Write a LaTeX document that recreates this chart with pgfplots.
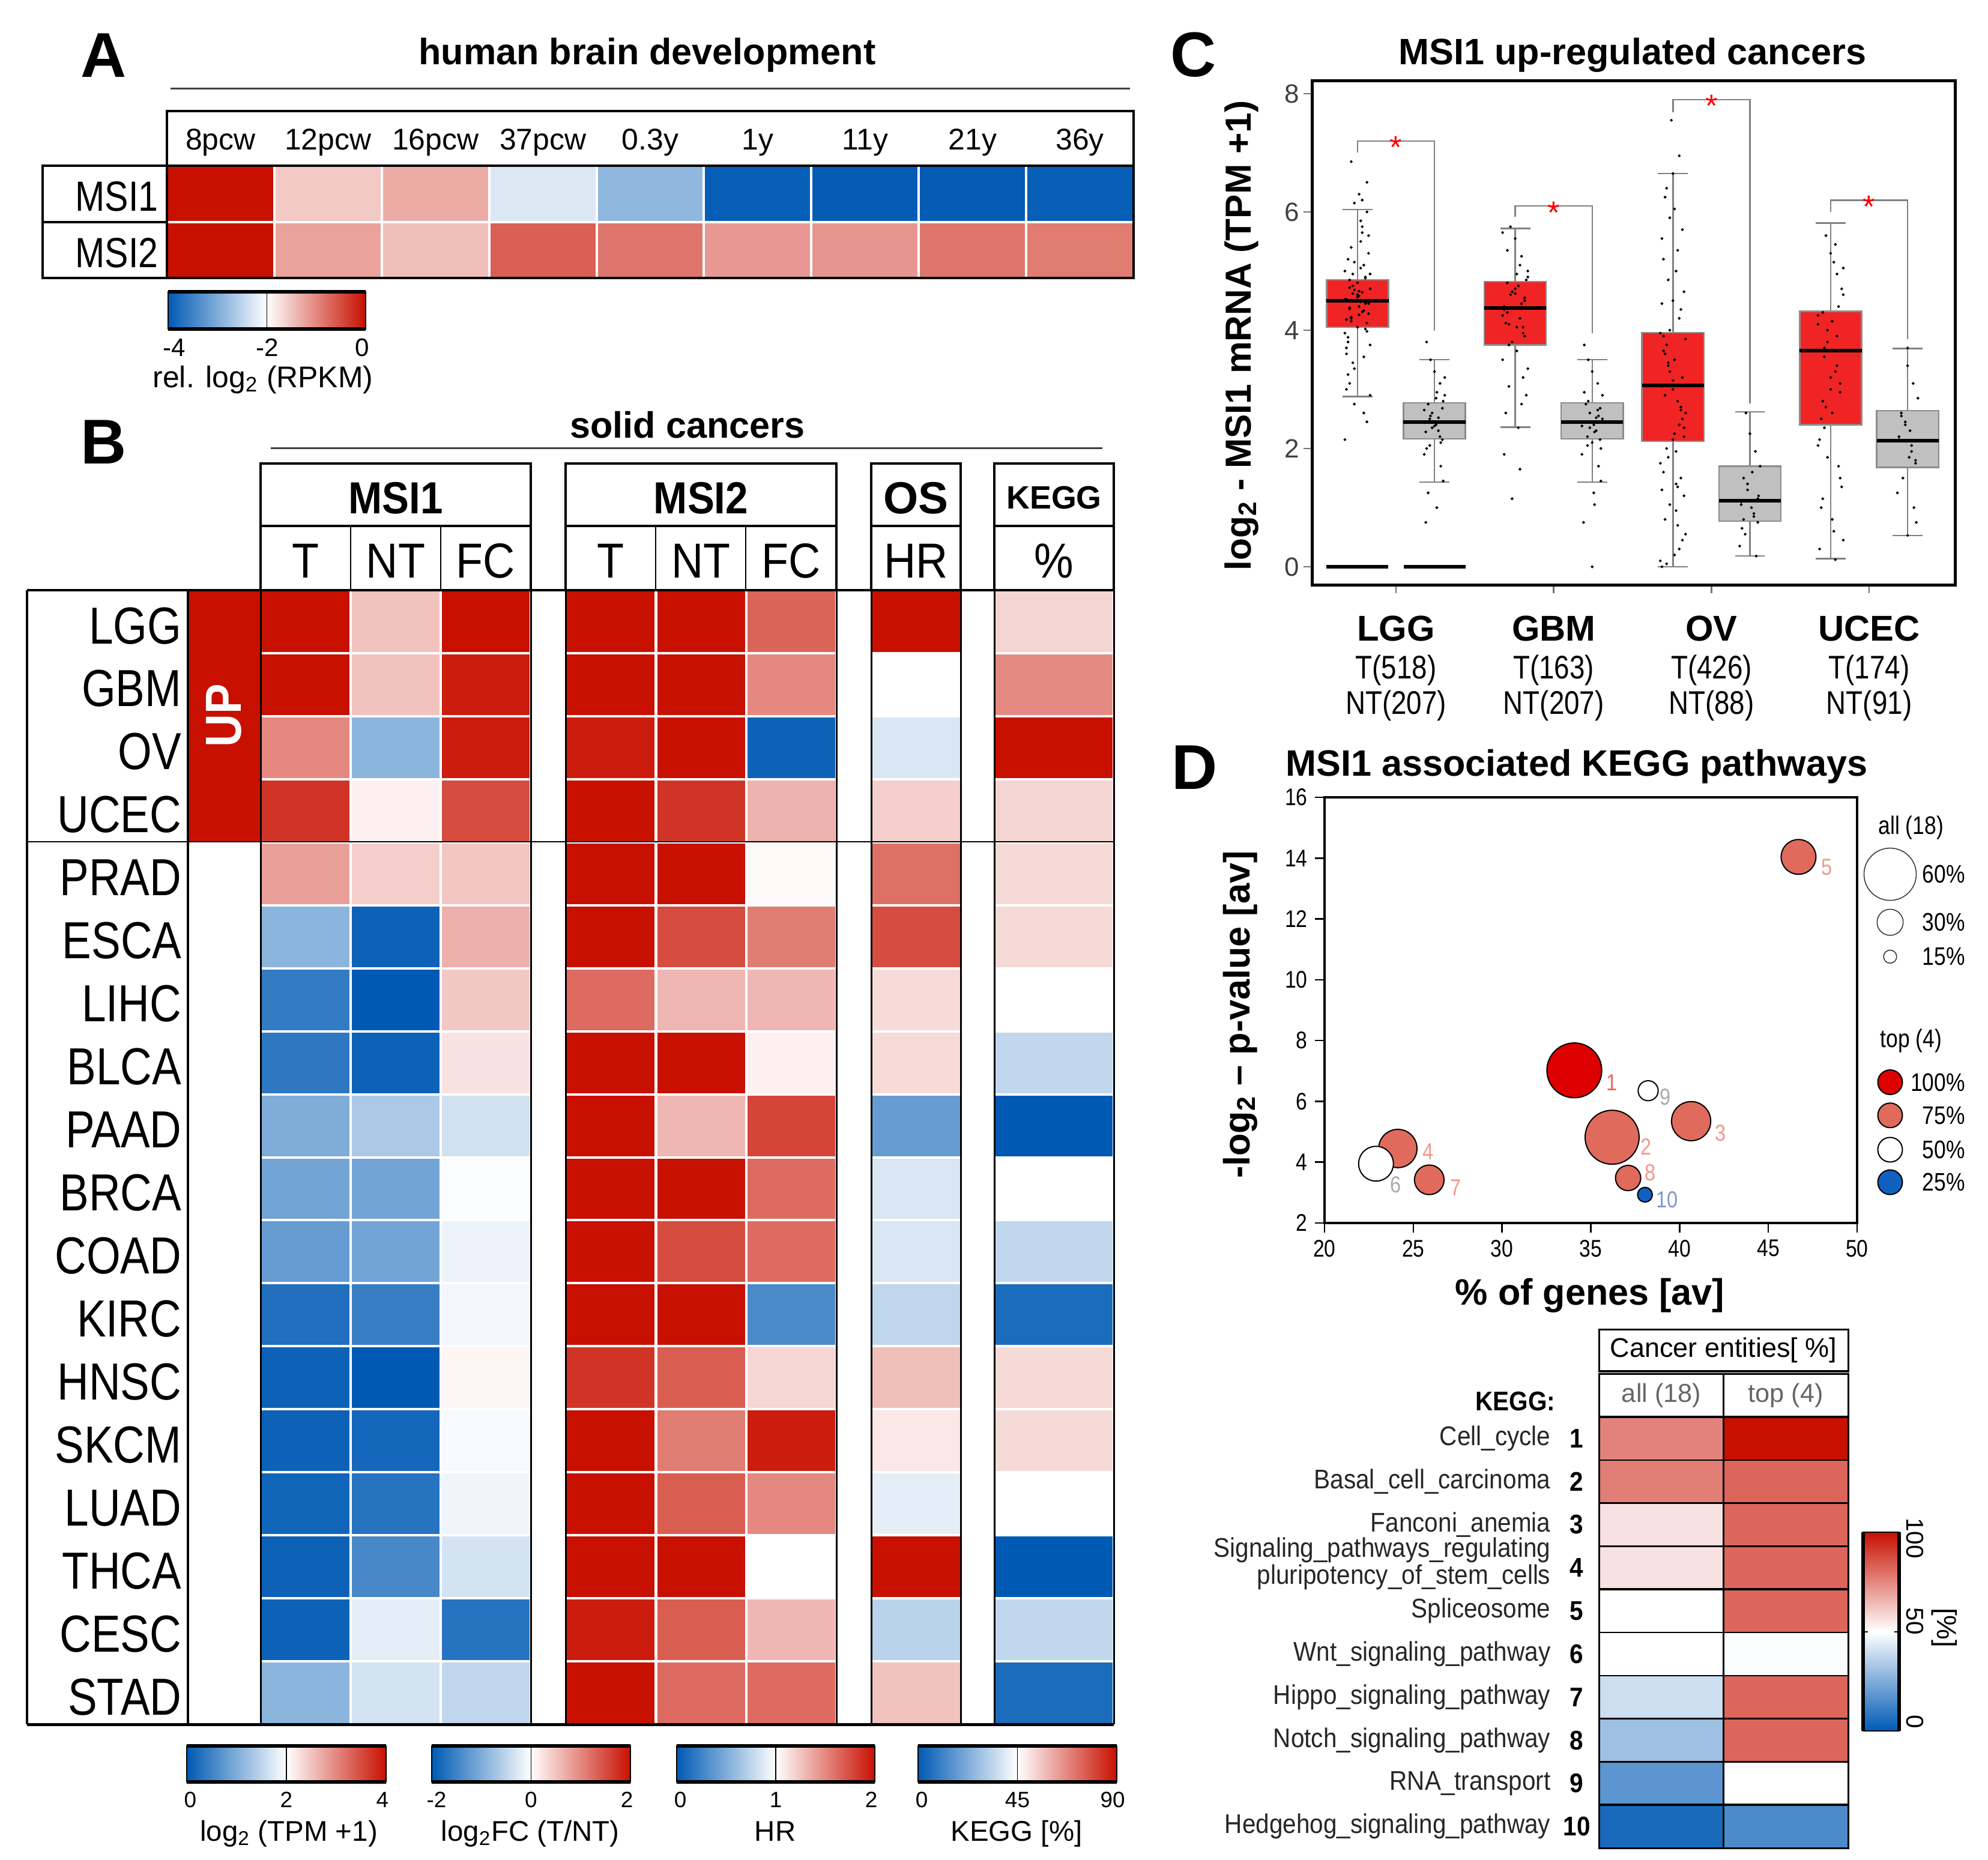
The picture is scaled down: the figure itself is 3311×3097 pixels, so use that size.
\documentclass[border=0pt]{standalone}
\usepackage{fontspec}
\setmainfont{Liberation Sans}
\newfontfamily\nar[FakeStretch=0.84]{Liberation Sans}
\newfontfamily\narm[FakeStretch=0.9]{Liberation Sans}
\usepackage{pgfplots}
\usepackage{pgfplotstable}
\pgfplotsset{compat=1.18}
\usepgfplotslibrary{statistics}
\newcommand{\fs}[1]{\fontsize{#1}{#1}\selectfont}

\definecolor{hmred}{RGB}{200,16,0}
\definecolor{hmblue}{RGB}{0,90,180}
\definecolor{boxred}{RGB}{240,36,36}
\definecolor{boxgray}{RGB}{192,192,192}
\definecolor{bubred}{RGB}{222,0,0}
\definecolor{bubsal}{RGB}{224,106,92}
\definecolor{bubblue}{RGB}{16,96,192}
\definecolor{labsal}{RGB}{244,150,140}
\definecolor{labred}{RGB}{238,100,100}
\definecolor{labgray}{RGB}{170,170,170}
\definecolor{labblue}{RGB}{130,150,205}

\pgfdeclareplotmark{cellA}{\pgfpathrectangle{\pgfpoint{-8.945mm}{-4.675mm}}{\pgfpoint{17.89mm}{9.35mm}}\pgfusepathqfillstroke}
\pgfdeclareplotmark{cellB}{\pgfpathrectangle{\pgfpoint{-7.5mm}{-5.247mm}}{\pgfpoint{15mm}{10.494mm}}\pgfusepathqfillstroke}
\pgfdeclareplotmark{cellK}{\pgfpathrectangle{\pgfpoint{-9.95mm}{-5.247mm}}{\pgfpoint{19.9mm}{10.494mm}}\pgfusepathqfillstroke}
\pgfdeclareplotmark{cellD}{\pgfpathrectangle{\pgfpoint{-10.375mm}{-3.59mm}}{\pgfpoint{20.75mm}{7.18mm}}\pgfusepathqfillstroke}

\pgfplotsset{
  colormap={bwr}{rgb255=(0,90,180) rgb255=(255,255,255) rgb255=(200,16,0)},
  hm/.style={scatter, only marks, mark options={line width=0.4mm},
    scatter/use mapped color={draw=white, fill=mapped color}},
  hmd/.style={scatter, only marks, mark=cellD, mark options={line width=0.25mm},
    scatter/use mapped color={draw=black, fill=mapped color}},
  bub/.style={visualization depends on={0.0725*\thisrow{s} \as \rad},
    scatter/@pre marker code/.append style={/tikz/mark size=\rad mm}},
}

% Panel A: relative log2 RPKM
\pgfplotstableread{
i M1 M2
1 0.00 0.00
2 -1.55 -1.22
3 -1.30 -1.46
4 -2.27 -0.66
5 -2.87 -0.85
6 -3.95 -1.14
7 -3.97 -1.12
8 -3.97 -0.85
9 -3.95 -0.90
}\tabA

% Panel B
\pgfplotstableread{
r T1 N1 F1 T2 N2 F2 HR KG
1 4.0 2.5 2.0 4.0 4.0 1.3 2.0 53
2 4.0 2.5 1.9 4.0 4.0 1.0 1.0 67
3 3.0 1.1 1.9 3.9 4.0 -1.9 0.85 90
4 3.7 2.12 1.5 4.0 3.7 0.64 1.2 53
5 2.8 2.4 0.48 4.0 4.0 0.04 1.6 52
6 1.1 0.1 0.66 4.0 3.5 1.1 1.75 52
7 0.4 0.0 0.46 3.24 2.6 0.6 1.15 45
8 0.36 0.1 0.24 4.0 4.0 0.12 1.15 34
9 1.0 1.34 -0.36 4.0 2.6 1.56 0.4 0
10 0.9 0.9 -0.04 4.0 4.0 1.24 0.85 45
11 0.8 0.9 -0.14 4.0 3.5 1.24 0.85 34
12 0.26 0.44 -0.1 4.0 4.0 -1.4 0.75 5
13 0.1 0.0 0.08 3.7 3.36 0.34 1.27 52
14 0.1 0.16 -0.06 4.0 3.1 1.9 1.1 52
15 0.14 0.3 -0.12 4.0 3.36 1.0 0.9 45
16 0.1 0.56 -0.34 4.0 4.0 0.0 2.0 0
17 0.1 1.8 -1.7 3.9 3.36 0.6 0.73 34
18 1.1 1.66 -0.5 4.0 3.24 1.24 1.25 5
}\tabB

% Panel D table
\pgfplotstableread{
r all top
1 76 100
2 77 82
3 56 82
4 56 82
5 50 82
6 50 49
7 40 82
8 31 82
9 18 50
10 5 15
}\tabD

% Panel C jittered samples (approximate)
\pgfplotstableread{
x y
0.686 4.52
0.786 4.31
0.736 4.68
0.816 4.12
0.706 4.85
0.766 4.40
0.836 4.95
0.716 4.22
0.796 5.10
0.676 3.95
0.756 4.60
0.806 4.45
0.726 4.75
0.826 5.30
0.696 3.80
0.776 5.50
0.686 3.60
0.786 5.75
0.736 3.35
0.816 6.00
0.706 3.10
0.766 6.30
0.836 2.90
0.716 6.85
0.796 2.60
0.676 2.15
0.756 4.05
0.806 4.90
0.726 4.62
0.826 4.28
0.696 5.20
0.776 4.48
0.686 3.70
0.786 5.65
0.736 6.15
0.816 2.45
0.706 4.38
0.766 4.58
0.836 4.70
0.716 4.15
0.796 4.33
0.676 4.52
0.756 4.80
0.806 4.02
0.726 4.95
0.826 4.45
0.696 3.88
0.776 5.05
0.686 4.18
0.786 4.64
0.736 5.15
0.816 3.98
0.706 4.72
0.766 4.26
0.836 3.75
0.716 5.40
0.796 3.55
0.676 5.00
0.756 4.56
0.806 4.88
0.726 3.45
0.826 5.60
0.696 3.25
0.776 5.85
0.686 3.00
0.786 6.20
0.736 2.75
0.816 6.50
0.706 4.36
0.766 4.66
0.836 4.50
0.716 4.20
1.189 2.45
1.269 2.30
1.229 2.60
1.294 2.15
1.204 2.75
1.254 2.40
1.309 2.90
1.214 2.05
1.279 3.10
1.179 1.90
1.244 3.30
1.284 1.70
1.219 3.50
1.299 1.45
1.194 3.80
1.259 1.00
1.189 0.75
1.269 2.52
1.229 2.35
1.294 2.68
1.204 1.25
1.254 2.85
1.309 3.20
1.214 2.50
1.279 2.20
1.179 2.65
1.244 2.38
1.284 2.10
1.219 2.55
1.299 2.80
1.194 2.00
1.259 2.95
1.189 2.28
1.686 4.40
1.786 4.20
1.736 4.65
1.816 3.90
1.706 4.80
1.766 4.05
1.836 5.00
1.716 3.75
1.796 5.25
1.676 3.50
1.756 5.55
1.806 3.20
1.726 5.75
1.826 2.90
1.696 2.60
1.776 2.35
1.686 1.90
1.786 1.65
1.736 1.15
1.816 4.55
1.706 4.30
1.766 4.95
1.836 3.35
1.716 4.10
1.796 4.45
1.676 4.25
1.756 4.70
1.806 3.95
1.726 4.60
1.826 4.85
1.696 4.12
1.776 4.75
1.686 4.35
1.786 5.10
1.736 3.80
1.816 4.50
1.706 5.35
1.766 3.65
1.836 4.90
1.716 3.05
1.796 2.75
1.676 5.65
1.756 4.62
1.806 4.05
2.189 2.45
2.269 2.30
2.229 2.60
2.294 2.15
2.204 2.75
2.254 2.40
2.309 2.90
2.214 2.05
2.279 3.10
2.179 1.90
2.244 3.30
2.284 1.70
2.219 3.50
2.299 1.45
2.194 3.75
2.259 1.05
2.189 0.75
2.269 2.52
2.229 2.35
2.294 2.68
2.244 0.00
2.254 1.25
2.309 2.50
2.214 2.20
2.279 2.65
2.179 2.38
2.244 2.10
2.284 2.55
2.219 2.80
2.299 2.00
2.194 2.95
2.259 2.28
2.686 3.05
2.786 2.80
2.736 3.30
2.816 2.50
2.706 3.60
2.766 2.25
2.836 3.85
2.716 2.00
2.796 4.20
2.676 1.75
2.756 4.50
2.806 1.50
2.726 4.85
2.826 1.20
2.696 5.20
2.776 0.95
2.686 5.55
2.786 0.70
2.736 5.90
2.816 0.45
2.706 6.25
2.766 0.20
2.756 6.65
2.716 0.05
2.796 6.95
2.746 7.55
2.756 3.15
2.806 2.65
2.726 3.45
2.826 2.35
2.696 3.90
2.776 1.95
2.686 0.00
2.786 1.35
2.736 4.00
2.816 3.20
2.706 2.90
2.766 3.50
2.836 2.60
2.716 3.75
2.796 2.40
2.676 3.95
2.756 2.15
2.806 4.35
2.726 1.85
2.826 4.65
2.696 1.60
2.776 5.00
2.686 1.30
2.786 5.35
2.736 1.05
2.816 5.70
2.706 0.80
2.766 6.05
2.836 0.55
2.716 6.40
2.796 0.30
2.676 0.10
2.756 3.00
2.806 2.70
2.726 3.40
2.826 2.20
2.696 3.65
2.776 1.40
2.686 4.45
3.189 1.10
3.269 0.90
3.229 1.30
3.294 0.75
3.204 1.50
3.254 1.00
3.309 1.70
3.214 0.55
3.279 1.95
3.179 0.35
3.244 2.25
3.284 0.18
3.219 2.60
3.299 1.20
3.194 0.65
3.259 1.60
3.189 1.05
3.269 0.85
3.229 1.40
3.294 1.15
3.204 0.80
3.686 3.65
3.786 3.30
3.736 4.00
3.816 2.95
3.706 4.30
3.766 2.60
3.836 4.60
3.716 2.35
3.796 4.95
3.676 2.05
3.756 5.30
3.806 1.70
3.726 5.60
3.826 1.35
3.696 1.00
3.776 0.60
3.686 0.30
3.786 0.12
3.736 3.80
3.816 3.10
3.706 2.80
3.766 4.15
3.836 5.05
3.716 3.70
3.796 3.40
3.676 4.10
3.756 3.00
3.806 4.40
3.726 2.70
3.826 4.70
3.696 2.50
3.776 5.15
3.686 2.15
3.786 5.45
3.736 1.85
3.816 1.50
3.706 1.15
3.766 0.80
3.836 0.45
3.716 3.55
3.796 3.90
3.676 4.25
3.756 3.20
4.189 2.15
4.269 1.95
4.229 2.40
4.294 1.75
4.204 2.60
4.254 1.85
4.309 2.85
4.214 1.50
4.279 3.10
4.179 1.25
4.244 3.40
4.284 1.00
4.244 3.70
4.299 0.75
4.244 0.53
4.259 2.30
4.189 2.20
4.269 2.05
4.229 2.45
4.294 1.80
4.204 2.55
}\dotsC

\begin{document}
\begin{tikzpicture}

%================ Panel A heatmap =================
\begin{axis}[at={(27.8mm,-27.6mm)}, anchor=north west, scale only axis,
  width=161mm, height=18.7mm, xmin=0.5, xmax=9.5, ymin=0.5, ymax=2.5,
  y dir=reverse, hide axis, clip=false, point meta min=-1, point meta max=1]
\addplot[hm, mark=cellA, point meta={(\thisrow{M1}+2)/2}] table[x=i, y expr=1] {\tabA};
\addplot[hm, mark=cellA, point meta={(\thisrow{M2}+2)/2}] table[x=i, y expr=2] {\tabA};
\end{axis}

%================ Panel B heatmap =================
\begin{axis}[at={(43.4mm,-98.3mm)}, anchor=north west, scale only axis,
  width=142.1mm, height=188.9mm, xmin=434, xmax=1855, ymin=0.5, ymax=18.5,
  y dir=reverse, hide axis, clip=false, point meta min=-1, point meta max=1]
\addplot[hm, mark=cellB, point meta={(\thisrow{T1}-2)/2}] table[x expr=509, y=r] {\tabB};
\addplot[hm, mark=cellB, point meta={(\thisrow{N1}-2)/2}] table[x expr=659, y=r] {\tabB};
\addplot[hm, mark=cellB, point meta={\thisrow{F1}/2}] table[x expr=809, y=r] {\tabB};
\addplot[hm, mark=cellB, point meta={(\thisrow{T2}-2)/2}] table[x expr=1017, y=r] {\tabB};
\addplot[hm, mark=cellB, point meta={(\thisrow{N2}-2)/2}] table[x expr=1167.5, y=r] {\tabB};
\addplot[hm, mark=cellB, point meta={\thisrow{F2}/2}] table[x expr=1318, y=r] {\tabB};
\addplot[hm, mark=cellB, point meta={\thisrow{HR}-1}] table[x expr=1525.5, y=r] {\tabB};
\addplot[hm, mark=cellK, point meta={(\thisrow{KG}-45)/45}] table[x expr=1755.5, y=r] {\tabB};
\end{axis}

%================ Panel C =================
\begin{axis}[at={(218.5mm,-97.4mm)}, anchor=south west, scale only axis,
  width=107.2mm, height=84mm, xmin=0.467, xmax=4.548, ymin=-0.305, ymax=8.223,
  ytick={0,2,4,6,8}, xtick={1,2,3,4}, xticklabels={},
  tick align=outside, tick pos=left, major tick length=1.4mm,
  tick style={black!55, line width=0.25mm},
  axis line style={line width=0.5mm}, clip=false,
  yticklabel style={font=\fs{12.5}, text=black!75, inner xsep=0.6mm},
  /pgf/number format/assume math mode=true,
  boxplot/draw direction=y,
  boxplot/every median/.style={line width=0.6mm, black},
  boxplot/every whisker/.style={black!50, line width=0.25mm},
  boxplot/every box/.style={line width=0.25mm, draw=black!45}]
\addplot[fill=boxred, boxplot prepared={draw position=0.756, lower whisker=2.88, lower quartile=4.05, median=4.5, upper quartile=4.85, upper whisker=6.04, box extend=0.393, whisker extend=0.19}] coordinates {};
\addplot[fill=boxgray, boxplot prepared={draw position=1.244, lower whisker=1.43, lower quartile=2.16, median=2.45, upper quartile=2.77, upper whisker=3.5, box extend=0.393, whisker extend=0.19}] coordinates {};
\addplot[fill=boxred, boxplot prepared={draw position=1.756, lower whisker=2.36, lower quartile=3.75, median=4.38, upper quartile=4.82, upper whisker=5.72, box extend=0.393, whisker extend=0.19}] coordinates {};
\addplot[fill=boxgray, boxplot prepared={draw position=2.244, lower whisker=1.43, lower quartile=2.16, median=2.45, upper quartile=2.77, upper whisker=3.5, box extend=0.393, whisker extend=0.19}] coordinates {};
\addplot[fill=boxred, boxplot prepared={draw position=2.756, lower whisker=0.0, lower quartile=2.12, median=3.07, upper quartile=3.96, upper whisker=6.65, box extend=0.393, whisker extend=0.19}] coordinates {};
\addplot[fill=boxgray, boxplot prepared={draw position=3.244, lower whisker=0.18, lower quartile=0.77, median=1.12, upper quartile=1.70, upper whisker=2.62, box extend=0.393, whisker extend=0.19}] coordinates {};
\addplot[fill=boxred, boxplot prepared={draw position=3.756, lower whisker=0.135, lower quartile=2.40, median=3.65, upper quartile=4.32, upper whisker=5.81, box extend=0.393, whisker extend=0.19}] coordinates {};
\addplot[fill=boxgray, boxplot prepared={draw position=4.244, lower whisker=0.53, lower quartile=1.68, median=2.13, upper quartile=2.64, upper whisker=3.69, box extend=0.393, whisker extend=0.19}] coordinates {};
\addplot[only marks, mark=*, mark size=0.16mm, black] table {\dotsC};
\addplot[black, line width=0.6mm] coordinates {(0.56,4.5) (0.952,4.5)};
\addplot[black, line width=0.6mm] coordinates {(1.048,2.45) (1.44,2.45)};
\addplot[black, line width=0.6mm] coordinates {(1.56,4.38) (1.952,4.38)};
\addplot[black, line width=0.6mm] coordinates {(2.048,2.45) (2.44,2.45)};
\addplot[black, line width=0.6mm] coordinates {(2.56,3.07) (2.952,3.07)};
\addplot[black, line width=0.6mm] coordinates {(3.048,1.12) (3.44,1.12)};
\addplot[black, line width=0.6mm] coordinates {(3.56,3.65) (3.952,3.65)};
\addplot[black, line width=0.6mm] coordinates {(4.048,2.13) (4.44,2.13)};
\addplot[black, line width=0.6mm] coordinates {(0.56,0) (0.952,0)};
\addplot[black, line width=0.6mm] coordinates {(1.048,0) (1.44,0)};
\addplot[black!50, line width=0.25mm] coordinates {(0.756,7.0) (0.756,7.2) (1.244,7.2) (1.244,3.99)};
\addplot[black!50, line width=0.25mm] coordinates {(1.756,5.92) (1.756,6.1) (2.244,6.1) (2.244,3.95)};
\addplot[black!50, line width=0.25mm] coordinates {(2.756,7.68) (2.756,7.9) (3.244,7.9) (3.244,2.76)};
\addplot[black!50, line width=0.25mm] coordinates {(3.756,6.0) (3.756,6.2) (4.244,6.2) (4.244,3.85)};
\node[text=red, font=\fs{15}, yshift=-1.1mm] at (axis cs:1,7.2) {*};
\node[text=red, font=\fs{15}, yshift=-1.1mm] at (axis cs:2,6.1) {*};
\node[text=red, font=\fs{15}, yshift=-1.1mm] at (axis cs:3,7.9) {*};
\node[text=red, font=\fs{15}, yshift=-1.1mm] at (axis cs:4,6.2) {*};
\end{axis}

%================ Panel D scatter =================
\begin{axis}[at={(220.6mm,-203.7mm)}, anchor=south west, scale only axis,
  width=88.7mm, height=70.9mm, xmin=20, xmax=50, ymin=2, ymax=16,
  xtick={20,25,30,35,40,45,50}, ytick={2,4,6,8,10,12,14,16},
  tick align=outside, tick pos=left, major tick length=1.6mm,
  tick style={black, line width=0.25mm},
  axis line style={line width=0.4mm}, clip=false,
  ticklabel style={font=\nar\fs{11.4}},
  /pgf/number format/assume math mode=true]
\addplot[scatter, only marks, mark=*, scatter/use mapped color={draw=black, fill=bubsal, line width=0.2mm}, bub] table {
x y s
36.2 4.82 62
40.65 5.35 45
24.13 4.45 44
46.7 14.04 40
25.9 3.42 34
37.1 3.48 29
};
\addplot[scatter, only marks, mark=*, scatter/use mapped color={draw=black, fill=bubred, line width=0.2mm}, bub] table {
x y s
34.07 7.02 63
};
\addplot[scatter, only marks, mark=*, scatter/use mapped color={draw=black, fill=white, line width=0.2mm}, bub] table {
x y s
22.9 3.95 40
38.23 6.35 23
};
\addplot[scatter, only marks, mark=*, scatter/use mapped color={draw=black, fill=bubblue, line width=0.2mm}, bub] table {
x y s
38.05 2.93 17
};
% legend: size
\addplot[scatter, only marks, mark=*, scatter/use mapped color={draw=black!80, fill=white, line width=0.15mm}, bub] table {
x y s
51.86 13.47 60
51.86 11.89 30
51.86 10.76 15
};
% legend: colour
\addplot[only marks, mark=*, mark size=2.05mm, mark options={draw=black, fill=bubred, line width=0.2mm}] coordinates {(51.86,6.63)};
\addplot[only marks, mark=*, mark size=2.05mm, mark options={draw=black, fill=bubsal, line width=0.2mm}] coordinates {(51.86,5.54)};
\addplot[only marks, mark=*, mark size=2.05mm, mark options={draw=black, fill=white, line width=0.2mm}] coordinates {(51.86,4.41)};
\addplot[only marks, mark=*, mark size=2.05mm, mark options={draw=black, fill=bubblue, line width=0.2mm}] coordinates {(51.86,3.34)};
\node[font=\nar\fs{12}] at (axis cs:53.04,15.01) {all (18)};
\node[anchor=east, font=\nar\fs{12}] at (axis cs:56.5,13.47) {60\%};
\node[anchor=east, font=\nar\fs{12}] at (axis cs:56.5,11.89) {30\%};
\node[anchor=east, font=\nar\fs{12}] at (axis cs:56.5,10.76) {15\%};
\node[font=\nar\fs{12}] at (axis cs:53.04,7.99) {top (4)};
\node[anchor=east, font=\nar\fs{12}] at (axis cs:56.5,6.63) {100\%};
\node[anchor=east, font=\nar\fs{12}] at (axis cs:56.5,5.54) {75\%};
\node[anchor=east, font=\nar\fs{12}] at (axis cs:56.5,4.41) {50\%};
\node[anchor=east, font=\nar\fs{12}] at (axis cs:56.5,3.34) {25\%};
% bubble numbers
\node[text=labred, font=\nar\fs{11}] at (axis cs:36.2,6.62) {1};
\node[text=labsal, font=\nar\fs{11}] at (axis cs:38.1,4.5) {2};
\node[text=labsal, font=\nar\fs{11}] at (axis cs:42.3,4.95) {3};
\node[text=labsal, font=\nar\fs{11}] at (axis cs:25.85,4.35) {4};
\node[text=labsal, font=\nar\fs{11}] at (axis cs:48.3,13.7) {5};
\node[text=labgray, font=\nar\fs{11}] at (axis cs:24.0,3.27) {6};
\node[text=labsal, font=\nar\fs{11}] at (axis cs:27.4,3.17) {7};
\node[text=labsal, font=\nar\fs{11}] at (axis cs:38.35,3.66) {8};
\node[text=labgray, font=\nar\fs{11}] at (axis cs:39.2,6.15) {9};
\node[text=labblue, font=\nar\fs{11}] at (axis cs:39.3,2.77) {10};
\end{axis}

%================ Panel D table heatmap =================
\begin{axis}[at={(266.3mm,-236mm)}, anchor=north west, scale only axis,
  width=41.5mm, height=71.8mm, xmin=0.5, xmax=2.5, ymin=0.5, ymax=10.5,
  y dir=reverse, hide axis, clip=false, point meta min=-1, point meta max=1]
\addplot[hmd, point meta={(\thisrow{all}-50)/50}] table[x expr=1, y=r] {\tabD};
\addplot[hmd, point meta={(\thisrow{top}-50)/50}] table[x expr=2, y=r] {\tabD};
\end{axis}

%================ TikZ decorations (pixel units) =================
\begin{scope}[x=0.1mm,y=-0.1mm, every node/.style={inner sep=0pt}]
% ---- A
\node[anchor=base, font=\bfseries\fs{30}] at (173,128) {A};
\node[anchor=base, font=\bfseries\fs{17.4}] at (1078,107) {human brain development};
\draw[line width=0.3mm, black!75] (284,147) -- (1882,147);
\foreach \l [count=\i] in {8pcw,12pcw,16pcw,37pcw,0.3y,1y,11y,21y,36y}
  \node[anchor=base, font=\fs{14.2}] at ({278+(\i-0.5)*178.9},249) {\l};
\node[anchor=base east, font=\nar\fs{20}] at (264,351) {MSI1};
\node[anchor=base east, font=\nar\fs{20}] at (264,445) {MSI2};
\draw[line width=0.45mm] (278,185) rectangle (1888,463);
\draw[line width=0.45mm] (278,276) -- (1888,276);
\draw[line width=0.45mm] (71,276) rectangle (278,463);
\draw[line width=0.45mm] (71,370) -- (278,370);
\shade[left color=hmblue, right color=hmred, middle color=white] (280,486) rectangle (609,548);
\draw[line width=0.25mm] (280,486) rectangle (609,548);
\draw[line width=0.6mm] (280,486) -- (609,486) (280,548) -- (609,548);
\draw[line width=0.15mm] (444.5,486) -- (444.5,548);
\node[anchor=base, font=\fs{12}] at (290,593) {-4};
\node[anchor=base, font=\fs{12}] at (445,593) {-2};
\node[anchor=base, font=\fs{12}] at (603,593) {0};
\node[anchor=base, font=\fs{14.2}] at (438,645) {rel. log\textsubscript{2} (RPKM)};

% ---- B
\fill[hmred] (313,983) rectangle (434,1402);
\node[rotate=90, font=\narm\bfseries\fs{24}, text=white] at (373,1192) {UP};
\node[anchor=base, font=\bfseries\fs{30}] at (173,772) {B};
\node[anchor=base, font=\bfseries\fs{17.4}] at (1145,729) {solid cancers};
\draw[line width=0.3mm, black!75] (451,746) -- (1836,746);
\foreach \n [count=\i] in {LGG,GBM,OV,UCEC,PRAD,ESCA,LIHC,BLCA,PAAD,BRCA,COAD,KIRC,HNSC,SKCM,LUAD,THCA,CESC,STAD}
  \node[anchor=base east, font=\nar\fs{24.7}] at (303,{983+(\i-1)*104.94+89}) {\n};
\draw[line width=0.45mm] (45,983) -- (1855,983);
\draw[line width=0.5mm] (45,2872) -- (1855,2872);
\draw[line width=0.4mm] (45,983) -- (45,2872);
\draw[line width=0.4mm] (313,983) -- (313,2872);
\draw[line width=0.25mm] (45,1402) -- (1855,1402);
\foreach \xx in {434,884,942,1393,1451,1600,1656,1855}
  \draw[line width=0.3mm] (\xx,983) -- (\xx,2872);
\foreach \a/\b in {434/884,942/1393,1451/1600,1656/1855} {
  \draw[line width=0.4mm] (\a,772) rectangle (\b,983);
  \draw[line width=0.4mm] (\a,876) -- (\b,876);
}
\foreach \xx in {584,734,1092,1242}
  \draw[line width=0.25mm] (\xx,876) -- (\xx,983);
\node[anchor=base, font=\narm\bfseries\fs{21.3}] at (659,855) {MSI1};
\node[anchor=base, font=\narm\bfseries\fs{21.3}] at (1167.5,855) {MSI2};
\node[anchor=base, font=\bfseries\fs{21.3}] at (1525.5,855) {OS};
\node[anchor=base, font=\bfseries\fs{15.3}] at (1755.5,847) {KEGG};
\foreach \t/\xx in {T/509,NT/659,FC/809,T/1017,NT/1167.5,FC/1318,HR/1525.5}
  \node[anchor=base, font=\narm\fs{23.3}] at (\xx,962) {\t};
\node[anchor=base, font=\narm\fs{23.3}] at (1755.5,962) {\%};
\foreach \a/\b in {311/643,719/1050,1127/1457,1529/1860} {
  \shade[left color=hmblue, right color=hmred, middle color=white] (\a,2908) rectangle (\b,2968);
  \draw[line width=0.2mm] (\a,2908) rectangle (\b,2968);
  \draw[line width=0.55mm] (\a,2908) -- (\b,2908) (\a,2968) -- (\b,2968);
  \draw[line width=0.15mm] ({(\a+\b)/2},2908) -- ({(\a+\b)/2},2968);
}
\foreach \t/\xx in {0/317,2/477,4/637,-2/727,0/884.5,2/1044,0/1133,1/1292,2/1451,0/1535,45/1694.5,90/1853}
  \node[anchor=base, font=\fs{10.5}] at (\xx,3010) {\t};
\node[anchor=base, font=\fs{13.5}] at (481,3066) {log\textsubscript{2} (TPM +1)};
\node[anchor=base, font=\fs{13.5}] at (883,3066) {log\textsubscript{2}FC (T/NT)};
\node[anchor=base, font=\fs{13.5}] at (1291,3066) {HR};
\node[anchor=base, font=\fs{13.5}] at (1693,3066) {KEGG [\%]};

% ---- C
\node[anchor=base, font=\bfseries\fs{30}] at (1988,127) {C};
\node[anchor=base, font=\bfseries\fs{17.4}] at (2719,107) {MSI1 up-regulated cancers};
\node[rotate=90, font=\bfseries\fs{17.2}] at (2068,559) {log\textsubscript{2} - MSI1 mRNA (TPM +1)};
\foreach \g/\t/\n [count=\k] in {LGG/518/207,GBM/163/207,OV/426/88,UCEC/174/91} {
  \node[anchor=base, font=\bfseries\fs{17}] at ({2325+(\k-1)*262.7},1067) {\g};
  \node[anchor=base, font=\nar\fs{15.5}] at ({2325+(\k-1)*262.7},1130) {T(\t)};
  \node[anchor=base, font=\nar\fs{15.5}] at ({2325+(\k-1)*262.7},1189) {NT(\n)};
}

% ---- D
\node[anchor=base, font=\bfseries\fs{30}] at (1990,1314) {D};
\node[anchor=base, font=\bfseries\fs{17.4}] at (2626,1292) {MSI1 associated KEGG pathways};
\node[rotate=90, font=\bfseries\fs{17.4}] at (2066,1690) {-log\textsubscript{2} \textendash{} p-value [av]};
\node[font=\bfseries\fs{17.4}] at (2648,2158) {\% of genes [av]};

% ---- D table
\draw[line width=0.4mm] (2663,2647.2) -- (3078,2647.2);
\draw[line width=0.4mm] (2663,3006.2) -- (3078,3006.2);
\draw[line width=0.3mm] (2663,2360) rectangle (3078,3078);
\draw[line width=0.3mm] (2663,2214) rectangle (3078,2284);
\draw[line width=0.3mm] (2663,2288) rectangle (3078,2360);
\draw[line width=0.45mm] (2663,2284) -- (3078,2284) (2663,2360) -- (3078,2360);
\draw[line width=0.3mm] (2870.5,2288) -- (2870.5,2360);
\node[font=\fs{12.8}] at (2870.5,2249) {Cancer entities[ \%]};
\node[font=\fs{12.3}, text=black!60] at (2767,2324) {all (18)};
\node[font=\fs{12.3}, text=black!60] at (2974,2324) {top (4)};
\node[anchor=east, font=\narm\bfseries\fs{12.8}] at (2591,2334) {KEGG:};
\foreach \n [count=\i] in {Cell\_cycle,Basal\_cell\_carcinoma,Fanconi\_anemia,{},Spliceosome,Wnt\_signaling\_pathway,Hippo\_signaling\_pathway,Notch\_signaling\_pathway,RNA\_transport,Hedgehog\_signaling\_pathway} {
  \node[anchor=east, font=\narm\fs{12.8}, text=black!85] at (2583,{2360+(\i-0.5)*71.8}) {\n};
  \node[font=\narm\bfseries\fs{12.8}] at (2626,{2360+(\i-0.5)*71.8}) {\i};
}
\node[anchor=east, align=right, font=\narm\fs{12.8}, text=black!85] at (2583,2604)
  {\fontsize{12.8}{13.6}\selectfont Signaling\_pathways\_regulating\\pluripotency\_of\_stem\_cells};
\shade[bottom color=hmblue, top color=hmred, middle color=white] (3103,2552) rectangle (3163,2883);
\draw[line width=0.2mm] (3103,2552) rectangle (3163,2883);
\draw[line width=0.55mm] (3103,2552) -- (3103,2883) (3163,2552) -- (3163,2883);
\draw[line width=0.2mm] (3103,2717.5) -- (3111,2717.5) (3155,2717.5) -- (3163,2717.5);
\node[rotate=-90, font=\fs{11.5}] at (3189,2562) {100};
\node[rotate=-90, font=\fs{11.5}] at (3189,2700) {50};
\node[rotate=-90, font=\fs{11.5}] at (3189,2868) {0};
\node[rotate=-90, font=\fs{13}] at (3238,2711) {[\%]};

\pgfresetboundingbox
\path (0,0) rectangle (3311,3097);
\end{scope}
\end{tikzpicture}
\end{document}
